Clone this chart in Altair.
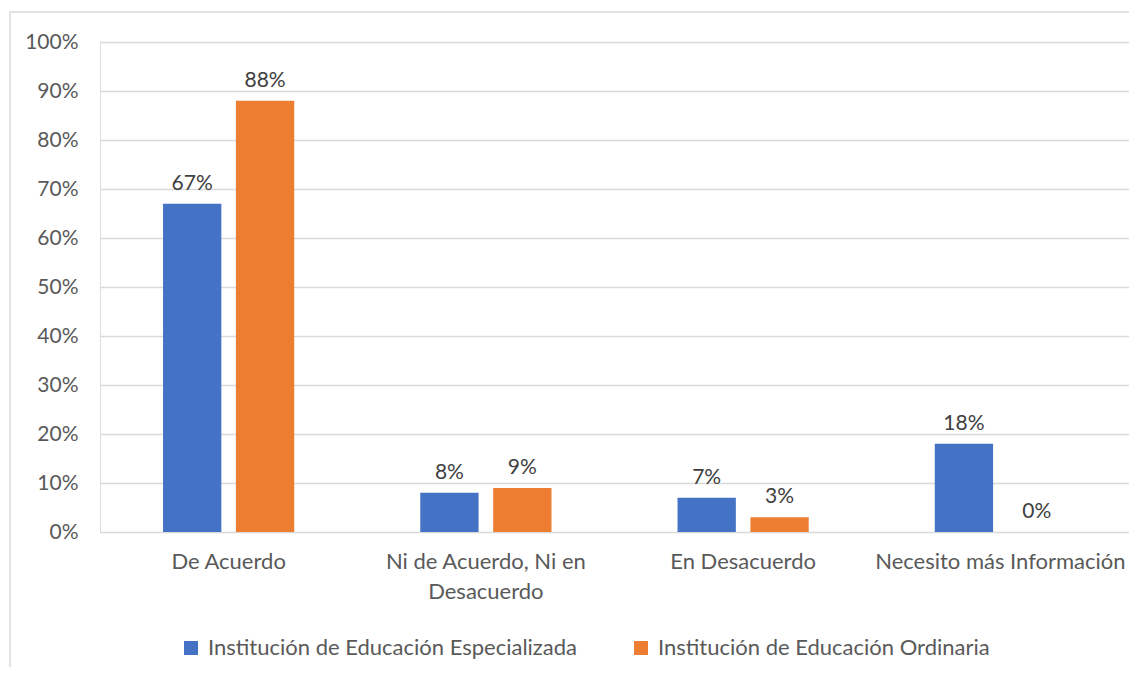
import altair as alt
import pandas as pd

categories = ["De Acuerdo", "Ni de Acuerdo, Ni en Desacuerdo", "En Desacuerdo", "Necesito más Información"]
series = ["Institución de Educación Especializada", "Institución de Educación Ordinaria"]
especializada = [0.67, 0.08, 0.07, 0.18]
ordinaria = [0.88, 0.09, 0.03, 0.00]
colors = ["#4472C4", "#ED7D31"]

rows = []
for c, a, b in zip(categories, especializada, ordinaria):
    rows.append({"cat": c, "serie": series[0], "val": a})
    rows.append({"cat": c, "serie": series[1], "val": b})
df = pd.DataFrame(rows)

FONT = "Lato"
W, H = 1029, 490

x = alt.X("cat:N", sort=categories, title=None,
          scale=alt.Scale(paddingInner=0.49, paddingOuter=0.245),
          axis=alt.Axis(labelAngle=0, domain=False, ticks=False, labelPadding=29, labelLimit=0,
                        labelFont=FONT, labelFontSize=22, labelColor="#595959",
                        labelLineHeight=30, labelBaseline="middle",
                        labelExpr="datum.label == 'Ni de Acuerdo, Ni en Desacuerdo' ? ['Ni de Acuerdo, Ni en', 'Desacuerdo'] : datum.label"))
xo = alt.XOffset("serie:N", sort=series, scale=alt.Scale(paddingInner=0.2, paddingOuter=0))
y = alt.Y("val:Q", title=None,
          scale=alt.Scale(domain=[0, 1], nice=False),
          axis=alt.Axis(format=".0%", values=[i / 10 for i in range(11)], domain=False, ticks=False,
                        labelPadding=22, labelFont=FONT, labelFontSize=21, labelColor="#595959",
                        gridColor="#D9D9D9", gridWidth=1.3))

base = alt.Chart(df)

frame = alt.Chart(pd.DataFrame({"a": [0]})).mark_rect(
    fill=None, stroke="#D9D9D9", strokeWidth=1.5
).encode(x=alt.value(-90), x2=alt.value(1200), y=alt.value(-30), y2=alt.value(800))

bars = base.mark_bar().encode(
    x=x, xOffset=xo, y=y,
    color=alt.Color("serie:N", sort=series, scale=alt.Scale(domain=series, range=colors),
                    legend=alt.Legend(title=None, orient="none", direction="horizontal",
                                      legendX=80, legendY=595, symbolType="square",
                                      symbolSize=196, symbolStrokeWidth=0, labelFont=FONT,
                                      labelFontSize=22, labelColor="#595959", labelOffset=6,
                                      labelLimit=0, columnPadding=53, padding=0)),
)

labels = base.mark_text(baseline="bottom", dy=-10, font=FONT, fontSize=21, color="#404040").encode(
    x=x, xOffset=xo, y=y, text=alt.Text("val:Q", format=".0%")
)

chart = alt.layer(frame, bars, labels).properties(
    width=W, height=H,
    autosize=alt.AutoSizeParams(type="none"),
    padding={"left": 92, "top": 34, "right": 0, "bottom": 135},
).configure_view(stroke=None).configure(background="white")

chart.save("out.html", embed_options={"renderer": "svg", "actions": False})
